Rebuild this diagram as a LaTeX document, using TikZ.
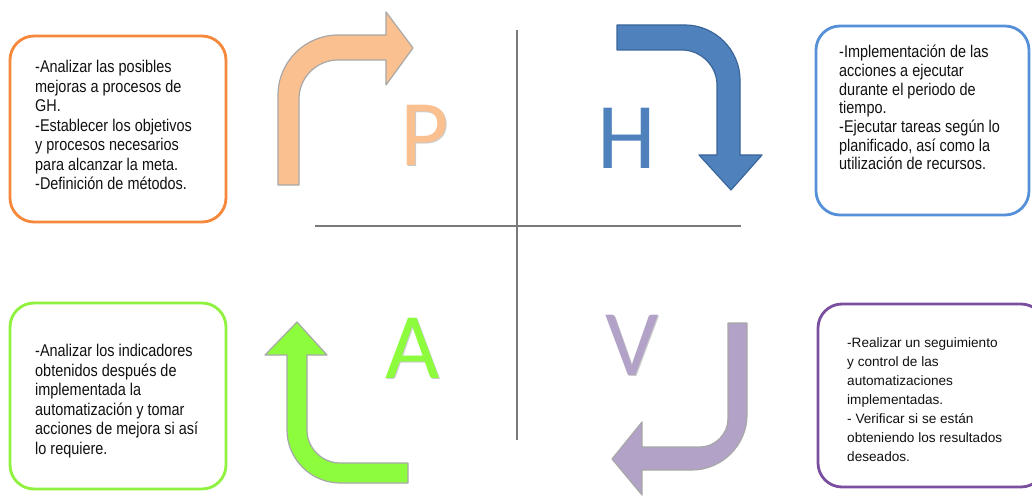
\documentclass[tikz,border=0pt]{standalone}
\usepackage{fontspec}
\setmainfont{Liberation Sans}
\newfontfamily\narrowfont[FakeStretch=0.85]{Liberation Sans}
\newfontfamily\letterfont{Carlito}
\definecolor{cOrange}{HTML}{F5883A}
\definecolor{cBlue}{HTML}{5590D8}
\definecolor{cGreen}{HTML}{8EF23E}
\definecolor{cPurple}{HTML}{7A4FA0}
\definecolor{fP}{HTML}{FAC090}
\definecolor{fH}{HTML}{4F81BD}
\definecolor{dH}{HTML}{3A6699}
\definecolor{fA}{HTML}{8CFC3C}
\definecolor{fV}{HTML}{B3A2C7}
\definecolor{edgeGray}{HTML}{A8A8A8}
\definecolor{txt}{HTML}{111111}
\definecolor{crossGray}{HTML}{7A7A7A}
\begin{document}
\begin{tikzpicture}[x=1pt,y=-1pt,
  infobox/.style={rounded corners=24pt, line width=2.8pt, fill=white},
  boxtext/.style={anchor=north west, inner sep=0pt, align=left, text=txt,
     font=\narrowfont\fontsize{17}{19.5}\selectfont},
  boxtextb/.style={anchor=north west, inner sep=0pt, align=left, text=txt,
     font=\fontsize{13.6}{19}\selectfont},
  bigletter/.style={inner sep=0pt, font=\letterfont\fontsize{94}{94}\selectfont},
  cross/.style={draw=crossGray, line width=1.8pt}
]
\useasboundingbox (0,0) rectangle (1032,497);
\begin{scope}
\clip (0,0) rectangle (1032,497);
% boxes
\draw[infobox, draw=cOrange] (10,36) rectangle (226,222);
\draw[infobox, draw=cBlue] (816,26) rectangle (1029,215);
\draw[infobox, draw=cGreen] (10,303) rectangle (226,489);
\draw[infobox, draw=cPurple] (818,304) rectangle (1045,487);
\end{scope}

% texts
\node[boxtext] (t1) at (35,60) {-Analizar las posibles\\mejoras a procesos de\\GH.\\-Establecer los objetivos\\y procesos necesarios\\para alcanzar la meta.\\-Definición de métodos.};
\node[boxtext, font=\narrowfont\fontsize{17}{18.7}\selectfont] (t2) at (839,45) {-Implementación de las\\acciones a ejecutar\\durante el periodo de\\tiempo.\\-Ejecutar tareas según lo\\planificado, así como la\\utilización de recursos.};
\node[boxtext] (t3) at (35,344) {-Analizar los indicadores\\obtenidos después de\\implementada la\\automatización y tomar\\acciones de mejora si así\\lo requiere.};
\node[boxtextb] (t4) at (847,337) {-Realizar un seguimiento\\y control de las\\automatizaciones\\implementadas.\\- Verificar si se están\\obteniendo los resultados\\deseados.};

% cross
\draw[cross] (517,30) coordinate (vt) -- (517,440) coordinate (vb);
\draw[cross] (315,226) coordinate (hl) -- (741,226) coordinate (hr);

% P arrow
\draw[fill=fP, draw=edgeGray, line width=1.2pt, line join=round]
  (278,185) -- (278,95) .. controls (278,62) and (305,35) .. (338,35)
  -- (386,35) -- (386,12) -- (413,48) -- (386,85) -- (386,60) -- (338,60)
  .. controls (316.5,60) and (299,77.5) .. (299,99) -- (299,185) -- cycle;
% H arrow
\draw[fill=fH, draw=dH, line width=1.2pt, line join=round]
  (617,25) -- (685,25) .. controls (715,25) and (740,50) .. (740,80)
  -- (740,155) -- (762,155) -- (731,190) -- (699,155) -- (717,155) -- (717,85)
  .. controls (717,66) and (701,50) .. (682,50) -- (617,50) -- cycle;
% A arrow
\draw[fill=fA, draw=edgeGray, line width=1.2pt, line join=round]
  (408,463) -- (340,463) .. controls (322,463) and (307,448) .. (307,430)
  -- (307,355) -- (327,355) -- (297,322) -- (265,355) -- (287,355) -- (287,430)
  .. controls (287,459) and (311,483) .. (340,483) -- (408,483) -- cycle;
% V arrow
\draw[fill=fV, draw=edgeGray, line width=1.2pt, line join=round]
  (728,323) -- (747,323) -- (747,415) .. controls (747,445) and (722,470) .. (692,470)
  -- (642,470) -- (642,495) -- (612,459) -- (642,422) -- (642,447) -- (700,447)
  .. controls (715,447) and (728,434) .. (728,419) -- cycle;

% letters
\node[bigletter, text=edgeGray!60, anchor=base] at (426,166.5) {P};
\node[bigletter, text=fP, anchor=base] (P) at (425,165.5) {P};
\node[bigletter, text=fH, anchor=base] (H) at (626.5,168) {H};
\node[bigletter, text=edgeGray!60, anchor=base] at (413.5,379) {A};
\node[bigletter, text=fA, anchor=base] (A) at (412.5,378) {A};
\node[bigletter, text=edgeGray!60, anchor=base] at (633,376) {V};
\node[bigletter, text=fV, anchor=base] (V) at (632,375) {V};
\end{tikzpicture}
\end{document}
